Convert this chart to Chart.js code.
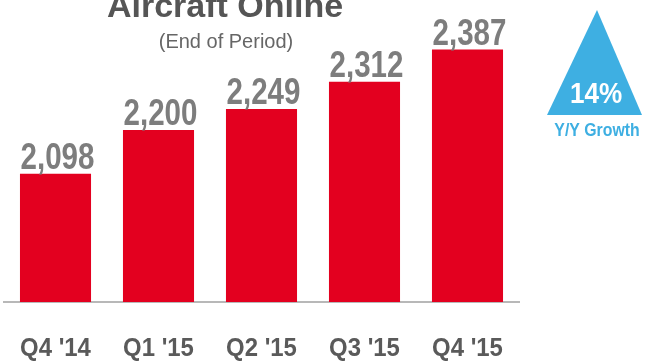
<!DOCTYPE html>
<html>
<head>
<meta charset="utf-8">
<script src="https://cdn.jsdelivr.net/npm/chart.js@4"></script>
<style>
  html, body { margin: 0; padding: 0; background: #fff; }
  #wrap { width: 648px; height: 363px; position: relative; }
</style>
</head>
<body>
<div id="wrap"><canvas id="chart"></canvas></div>
<script>
const categories = ["Q4 '14", "Q1 '15", "Q2 '15", "Q3 '15", "Q4 '15"];
const aircraftOnline = [2098, 2200, 2249, 2312, 2387];
const growthText = "14%";
const growthLabel = "Y/Y Growth";
const titleText = "Aircraft Online";
const subtitleText = "(End of Period)";

const FONT = '"Liberation Sans", Arial, sans-serif';
const BLUE = "#3eafe2";

// text helper, sx squeezes the glyphs sideways (source uses a condensed face)
const drawText = (ctx, text, x, y, font, color, sx) => {
    ctx.save();
    ctx.translate(x, y);
    ctx.scale(sx, 1);
    ctx.font = font;
    ctx.fillStyle = color;
    ctx.textAlign = "center";
    ctx.textBaseline = "alphabetic";
    ctx.fillText(text, 0, 0);
    ctx.restore();
};

const decorPlugin = {
    id: "decor",
    afterDatasetsDraw(chart) {
        const ctx = chart.ctx;
        const meta = chart.getDatasetMeta(0);
        const xScale = chart.scales.x;

        // value labels above bars
        meta.data.forEach((bar, i) => {
            const txt = aircraftOnline[i].toLocaleString("en-US");
            drawText(ctx, txt, bar.x + 2, bar.y - 5, "bold 36px " + FONT, "#7d7d7d", 0.82);
        });

        // category labels
        categories.forEach((c, i) => {
            const x = xScale.getPixelForValue(i);
            drawText(ctx, c, x, chart.chartArea.bottom + 54, "bold 26px " + FONT, "#5a5a5a", 0.92);
        });
    },
    afterDraw(chart) {
        const ctx = chart.ctx;

        // title (cut at the top edge in the source)
        drawText(ctx, titleText, 225, 17, "bold 34px " + FONT, "#555555", 1);
        drawText(ctx, subtitleText, 226, 48, "20px " + FONT, "#666666", 1);

        // growth triangle
        ctx.save();
        ctx.beginPath();
        ctx.moveTo(597, 10);
        ctx.lineTo(642, 115);
        ctx.lineTo(547, 115);
        ctx.closePath();
        ctx.fillStyle = BLUE;
        ctx.fill();
        ctx.restore();

        drawText(ctx, growthText, 596, 103, "bold 29px " + FONT, "#ffffff", 0.9);
        drawText(ctx, growthLabel, 597, 136, "bold 18px " + FONT, BLUE, 0.88);
    }
};

const ctx = document.getElementById("chart").getContext("2d");
const chart = new Chart(ctx, {
    type: "bar",
    data: {
        labels: categories,
        datasets: [{
            data: aircraftOnline,
            backgroundColor: "#e3001f",
            borderWidth: 0,
            barPercentage: 0.69,
            categoryPercentage: 1
        }]
    },
    options: {
        responsive: true,
        maintainAspectRatio: false,
        animation: false,
        layout: { padding: { top: 44, bottom: 61, left: 4, right: 129 } },
        plugins: {
            legend: { display: false },
            tooltip: { enabled: false }
        },
        scales: {
            x: {
                grid: { display: false, drawTicks: false },
                ticks: { display: false },
                border: { display: true, color: "#b8b8b8", width: 2 }
            },
            y: {
                display: false,
                min: 1800,
                max: 2400
            }
        }
    },
    plugins: [decorPlugin]
});
</script>
</body>
</html>
